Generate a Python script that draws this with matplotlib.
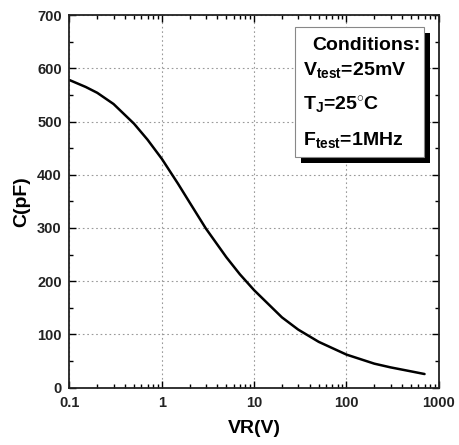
import matplotlib
matplotlib.use("Agg")
import matplotlib.pyplot as plt
from matplotlib.patches import Rectangle
from matplotlib.ticker import LogLocator, MultipleLocator, FixedLocator, FixedFormatter, NullFormatter

plt.rcParams['font.family'] = ['Liberation Sans', 'DejaVu Sans']
plt.rcParams['font.weight'] = 'bold'
plt.rcParams['mathtext.fontset'] = 'custom'
plt.rcParams['mathtext.rm'] = 'Liberation Sans:bold'
plt.rcParams['mathtext.it'] = 'Liberation Sans:bold'
plt.rcParams['mathtext.bf'] = 'Liberation Sans:bold'

# Junction capacitance vs reverse voltage
vr = [0.1, 0.15, 0.2, 0.3, 0.5, 0.7, 1, 1.5, 2, 3, 5, 7, 10, 20, 30, 50, 100, 200, 300, 500, 700]
cap = [578, 565, 554, 533, 496, 466, 430, 383, 348, 299, 245, 213, 183, 132, 109, 86, 62, 45, 38, 30.5, 25.5]

x_ticks = [0.1, 1, 10, 100, 1000]
x_tick_labels = ["0.1", "1", "10", "100", "1000"]
y_ticks = [0, 100, 200, 300, 400, 500, 600, 700]

fig = plt.figure(figsize=(4.6, 4.45), dpi=100)
ax = fig.add_axes([0.151, 0.129, 0.803, 0.837])

ax.plot(vr, cap, color='black', lw=1.8, solid_capstyle='round', solid_joinstyle='round')

ax.set_xscale('log')
ax.set_xlim(0.1, 1000)
ax.set_ylim(0, 700)

ax.xaxis.set_major_locator(FixedLocator(x_ticks))
ax.xaxis.set_major_formatter(FixedFormatter(x_tick_labels))
ax.xaxis.set_minor_locator(LogLocator(base=10, subs=range(2, 10), numticks=20))
ax.xaxis.set_minor_formatter(NullFormatter())
ax.yaxis.set_major_locator(FixedLocator(y_ticks))
ax.yaxis.set_minor_locator(MultipleLocator(50))

ax.tick_params(which='both', direction='in', top=True, right=True, labelsize=10.5, width=1.0)
ax.tick_params(which='major', length=5)
ax.tick_params(which='minor', length=3)
ax.tick_params(axis='x', which='major', pad=6)
ax.tick_params(axis='y', which='major', pad=5.5)
for lab in ax.get_xticklabels() + ax.get_yticklabels():
    lab.set_fontweight('bold')
    lab.set_color('#222222')

ax.grid(True, which='major', color='#999999', linestyle=(0, (1.5, 2.5)), lw=0.8)
for sp in ax.spines.values():
    sp.set_linewidth(1.3)
    sp.set_color('#222222')

ax.set_xlabel('VR(V)', fontsize=14, fontweight='bold', labelpad=7)
ax.set_ylabel('C(pF)', fontsize=14, fontweight='bold', labelpad=5)

# Conditions box with drop shadow (figure pixel coords -> fraction)
W, H = 460.0, 445.0
def fx(px):
    return px / W
def fy(py):
    return 1 - py / H

bx0, by0, bx1, by1 = 295, 27, 424, 157
fig.patches.append(Rectangle((fx(bx0 + 6), fy(by1 + 6)), fx(bx1 - bx0), (by1 - by0) / H,
                             transform=fig.transFigure, facecolor='black', edgecolor='none', zorder=5))
fig.patches.append(Rectangle((fx(bx0), fy(by1)), fx(bx1 - bx0), (by1 - by0) / H,
                             transform=fig.transFigure, facecolor='white', edgecolor='#888888', lw=0.8, zorder=6))

fs = 14
fig.text(fx(421), fy(45), 'Conditions:', ha='right', va='center', fontsize=fs, fontweight='bold', zorder=7)
fig.text(fx(303), fy(70), r'V$_{\mathrm{test}}$=25mV', ha='left', va='center', fontsize=fs, zorder=7)
fig.text(fx(303), fy(105), r'T$_{\mathrm{J}}$=25$^{\circ}$C', ha='left', va='center', fontsize=fs, zorder=7)
fig.text(fx(303), fy(140), r'F$_{\mathrm{test}}$=1MHz', ha='left', va='center', fontsize=fs, zorder=7)

fig.savefig('out.png', dpi=100)
